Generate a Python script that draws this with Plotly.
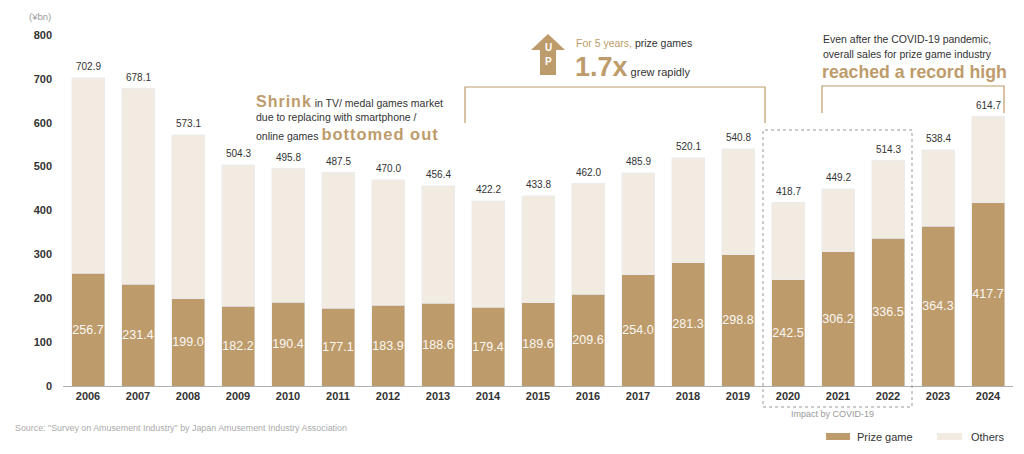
import plotly.graph_objects as go

years = [str(y) for y in range(2006, 2025)]
totals = [702.9, 678.1, 573.1, 504.3, 495.8, 487.5, 470.0, 456.4, 422.2, 433.8,
          462.0, 485.9, 520.1, 540.8, 418.7, 449.2, 514.3, 538.4, 614.7]
prize = [256.7, 231.4, 199.0, 182.2, 190.4, 177.1, 183.9, 188.6, 179.4, 189.6,
         209.6, 254.0, 281.3, 298.8, 242.5, 306.2, 336.5, 364.3, 417.7]
others = [446.2, 446.7, 374.1, 322.1, 305.4, 310.4, 286.1, 267.8, 242.8, 244.2,
          252.4, 231.9, 238.8, 242.0, 176.2, 143.0, 177.8, 174.1, 197.0]
y_ticks = [0, 100, 200, 300, 400, 500, 600, 700, 800]

TAN = "#BE9B6B"
CREAM = "#F2EBE1"
DARK = "#333333"
GREY = "#9a9a9a"
FONT = "Liberation Sans, Arial, sans-serif"

# page has an 8px body margin, so the figure is a bit smaller and offset
OFF = 8
W, H = 1024 - 2 * OFF, 454 - 2 * OFF
L, R, T, B = 63 - OFF, 1016 - 1013, 35 - OFF, 446 - 386


def px(x):
    return (x - OFF - L) / (W - L - R)


def py(y):
    return (H - B - (y - OFF)) / (H - T - B)


fig = go.Figure()
fig.add_trace(go.Bar(
    x=years, y=prize, name="Prize game", marker_color=TAN,
    text=[f"{v:.1f}" for v in prize], textposition="inside", insidetextanchor="middle",
    textangle=0, constraintext="none",
    textfont=dict(color="#FBF8F3", size=12.5, family=FONT), showlegend=False,
))
fig.add_trace(go.Bar(
    x=years, y=others, name="Others", marker_color=CREAM, showlegend=False,
))

shapes = []
line_tan = dict(color=TAN, width=1.2)
# bracket 2014-2019
shapes.append(dict(type="path", xref="paper", yref="paper", line=line_tan,
                   path=f"M{px(465)},{py(123)} L{px(465)},{py(87)} L{px(765)},{py(87)} L{px(765)},{py(123)}"))
# bracket 2021-2024
shapes.append(dict(type="path", xref="paper", yref="paper", line=line_tan,
                   path=f"M{px(822)},{py(113)} L{px(822)},{py(86)} L{px(1004)},{py(86)} L{px(1004)},{py(113)}"))
# covid dashed box
shapes.append(dict(type="rect", xref="paper", yref="paper",
                   x0=px(763), x1=px(912), y0=py(407), y1=py(130),
                   line=dict(color="#999999", width=1, dash="3px,3px")))
# UP arrow
arrow = [(548, 34), (565, 50), (556, 50), (556, 75), (540, 75), (540, 50), (531, 50)]
shapes.append(dict(type="path", xref="paper", yref="paper", fillcolor=TAN, line=dict(width=0),
                   path="M" + " L".join(f"{px(a)},{py(b)}" for a, b in arrow) + " Z"))
# legend swatches
shapes.append(dict(type="rect", xref="paper", yref="paper", x0=px(826), x1=px(850),
                   y0=py(440), y1=py(433), fillcolor=TAN, line=dict(width=0)))
shapes.append(dict(type="rect", xref="paper", yref="paper", x0=px(937), x1=px(962),
                   y0=py(440), y1=py(433), fillcolor=CREAM, line=dict(width=0)))


def note(x, y, text, size=10, color=DARK, xanchor="left", bold=False):
    return dict(xref="paper", yref="paper", x=px(x), y=py(y), text=text, showarrow=False,
                xanchor=xanchor, yanchor="middle",
                font=dict(family=FONT, size=size, color=color, weight="bold" if bold else "normal"))


def tan(t, size):
    return f"<span style='color:{TAN};font-size:{size}px;font-weight:bold;letter-spacing:1px'>{t}</span>"


annotations = [
    note(27, 17, "(¥bn)", size=9.5, color=GREY),
    note(254, 101, tan("Shrink", 16) + " in TV/ medal games market", size=10.5),
    note(254, 117, "due to replacing with smartphone /", size=10.5),
    note(254, 134, "online games " + tan("bottomed out", 16.5), size=10.5),
    note(574, 43, f"<span style='color:{TAN}'>For 5 years,</span> prize games", size=10.5),
    note(573, 67, f"<span style='color:{TAN};font-size:27px;font-weight:bold'>1.7x</span> grew rapidly", size=11),
    note(548, 47, "<b>U</b>", size=10, color="white", xanchor="center"),
    note(548, 61, "<b>P</b>", size=10, color="white", xanchor="center"),
    note(821, 39, "Even after the COVID-19 pandemic,", size=10.5),
    note(821, 54, "overall sales for prize game industry", size=10.5),
    note(820, 72, "reached a record high", size=17.7, color=TAN, bold=True),
    note(832, 414, "Impact by COVID-19", size=9, color=GREY, xanchor="center"),
    note(13, 428, "Source: \"Survey on Amusement Industry\" by Japan Amusement Industry Association",
         size=8.9, color="#aaaaaa"),
    note(855, 437, "Prize game", size=11),
    note(969, 437, "Others", size=11),
]

# total labels above each bar (category index on the x axis)
for i, tot in enumerate(totals):
    annotations.append(dict(x=i, y=tot, xref="x", yref="y", text=f"{tot:.1f}", showarrow=False,
                            yanchor="middle", yshift=11,
                            font=dict(family=FONT, size=10, color=DARK)))

fig.update_layout(
    barmode="stack", bargap=0.34,
    width=W, height=H, margin=dict(l=L, r=R, t=T, b=B, autoexpand=False),
    plot_bgcolor="white", paper_bgcolor="white",
    font=dict(family=FONT, color=DARK),
    shapes=shapes, annotations=annotations,
)
fig.update_xaxes(type="category", range=[-0.5, 18.5], showgrid=False, showline=True,
                 linecolor="#b0b0b0", linewidth=1.2, ticks="", automargin=False,
                 tickfont=dict(size=11, color=DARK, weight="bold"))
fig.update_yaxes(range=[0, 800], tickvals=y_ticks, showgrid=False, zeroline=False,
                 showline=False, ticks="", ticklabelstandoff=10, automargin=False,
                 tickfont=dict(size=11, color=DARK, weight="bold"))

fig.write_html("out.html")
